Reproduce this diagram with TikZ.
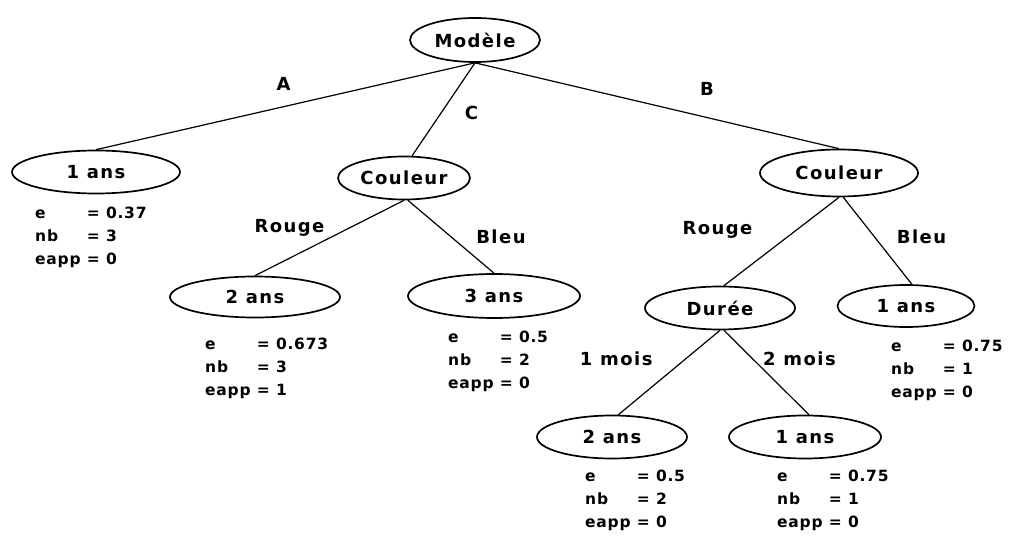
\documentclass[tikz,border=0pt]{standalone}
\usepackage{fontspec}
\setmainfont{DejaVu Sans}
\newfontfamily\arbre[LetterSpace=8]{DejaVu Sans}
\newfontfamily\feuille[LetterSpace=5]{DejaVu Sans}
\usetikzlibrary{shapes.geometric}

\begin{document}
\begin{tikzpicture}[x=1pt, y=-1pt,
    noeud/.style={ellipse, draw=black, line width=1.7pt, inner sep=0pt, font=\arbre\fontsize{18}{20}\selectfont\bfseries},
    lbl/.style={inner sep=0pt, font=\arbre\fontsize{18}{20}\selectfont\bfseries},
    stat/.style={anchor=base west, inner sep=0pt, font=\feuille\fontsize{15.5}{23}\selectfont\bfseries},
    branche/.style={line width=1.2pt}
]
    \useasboundingbox (0,0) rectangle (1013,537);

    % Racine
    \node[noeud, minimum width=130pt, minimum height=44pt] (modele) at (475,40) {Modèle};

    % Niveau 1
    \node[noeud, minimum width=168pt, minimum height=43pt] (ansA) at (96,172) {1 ans};
    \node[noeud, minimum width=132pt, minimum height=43pt] (coulC) at (404,178) {Couleur};
    \node[noeud, minimum width=158pt, minimum height=47pt] (coulB) at (839,173) {Couleur};

    % Niveau 2
    \node[noeud, minimum width=170pt, minimum height=41pt] (ansCR) at (255,297) {2 ans};
    \node[noeud, minimum width=172pt, minimum height=44pt] (ansCB) at (494,296) {3 ans};
    \node[noeud, minimum width=150pt, minimum height=43pt] (duree) at (720,308) {Durée};
    \node[noeud, minimum width=137pt, minimum height=42pt] (ansBB) at (906,306) {1 ans};

    % Niveau 3
    \node[noeud, minimum width=150pt, minimum height=43pt] (ansM1) at (612,437) {2 ans};
    \node[noeud, minimum width=152pt, minimum height=43pt] (ansM2) at (805,437) {1 ans};

    % Branches
    \draw[branche] (modele.south) -- node[lbl, xshift=-2pt, yshift=22pt] {A} (ansA.north);
    \draw[branche] (modele.south) -- node[lbl, xshift=28pt, yshift=-4pt] {C} (coulC.70);
    \draw[branche] (modele.south) -- node[lbl, xshift=50pt, yshift=17pt] {B} (coulB.north);
    \draw[branche] (coulC.south) -- node[lbl, xshift=-40pt, yshift=10pt] {Rouge} (ansCR.north);
    \draw[branche] (coulC.-80) -- node[lbl, xshift=50pt, yshift=0pt] {Bleu} (ansCB.north);
    \draw[branche] (coulB.south) -- node[lbl, xshift=-64pt, yshift=12pt] {Rouge} (duree.80);
    \draw[branche] (coulB.-80) -- node[lbl, xshift=44pt, yshift=4pt] {Bleu} (ansBB.75);
    \draw[branche] (duree.south) -- node[lbl, xshift=-53pt, yshift=14pt] {1 mois} (ansM1.74);
    \draw[branche] (duree.-80) -- node[lbl, xshift=33pt, yshift=14pt] {2 mois} (ansM2.80);

    % Statistiques des feuilles
    \node[stat] (statA) at (35,219) {\begin{tabular}[t]{@{}l@{ }l@{}}e & = 0.37\\ nb & = 3\\ eapp & = 0\end{tabular}};
    \node[stat] (statCR) at (205,350) {\begin{tabular}[t]{@{}l@{ }l@{}}e & = 0.673\\ nb & = 3\\ eapp & = 1\end{tabular}};
    \node[stat] (statCB) at (448,343) {\begin{tabular}[t]{@{}l@{ }l@{}}e & = 0.5\\ nb & = 2\\ eapp & = 0\end{tabular}};
    \node[stat] (statBB) at (891,352) {\begin{tabular}[t]{@{}l@{ }l@{}}e & = 0.75\\ nb & = 1\\ eapp & = 0\end{tabular}};
    \node[stat] (statM1) at (585,482) {\begin{tabular}[t]{@{}l@{ }l@{}}e & = 0.5\\ nb & = 2\\ eapp & = 0\end{tabular}};
    \node[stat] (statM2) at (777,482) {\begin{tabular}[t]{@{}l@{ }l@{}}e & = 0.75\\ nb & = 1\\ eapp & = 0\end{tabular}};
\end{tikzpicture}
\end{document}
